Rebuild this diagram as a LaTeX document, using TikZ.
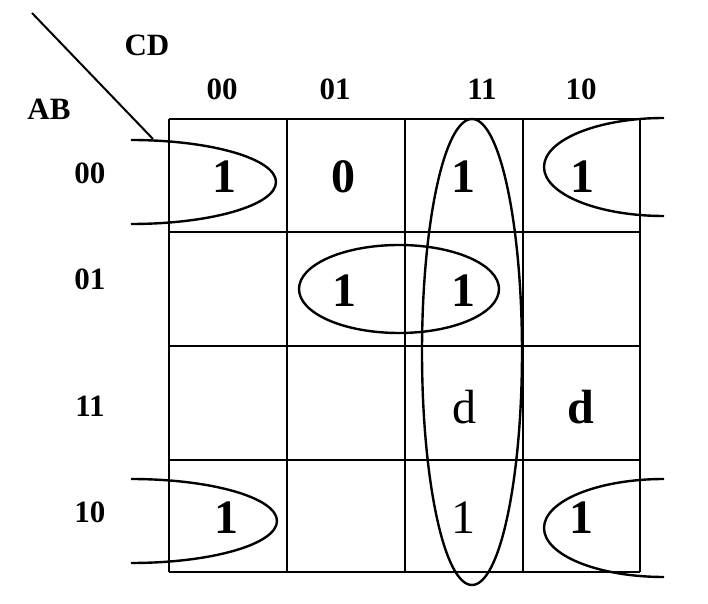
\documentclass[tikz,border=0pt]{standalone}
\usepackage{fontspec}
\setmainfont{Liberation Serif}
\usetikzlibrary{positioning}

\begin{document}
\begin{tikzpicture}[x=0.5pt,y=-0.5pt,
		lbl/.style={font=\fontsize{15.5}{16}\selectfont\bfseries, inner sep=0pt},
		val/.style={font=\fontsize{24}{24}\selectfont\bfseries, inner sep=0pt},
		valn/.style={font=\fontsize{24}{24}\selectfont, inner sep=0pt},
		loop/.style={line width=1.2pt}]
		\useasboundingbox (0,0) rectangle (708,604);
		% grid
		\foreach \x in {169,287,405,523,640}
			\draw[line width=0.7pt] (\x,119) -- (\x,572);
		\foreach \y in {119,232,346,460,572}
			\draw[line width=0.7pt] (169,\y) -- (640,\y);
		% corner
		\coordinate (corner top) at (32,13);
		\coordinate (corner end) at (153,139);
		\draw[line width=1pt] (corner top) -- (corner end);
		\node[lbl] (cd) at (147,45) {CD};
		\node[lbl] (ab) at (49,109) {AB};
		% column labels
		\node[lbl] (col00) at (222,89) {00};
		\node[lbl] (col01) at (335,89) {01};
		\node[lbl] (col11) at (482,89) {11};
		\node[lbl] (col10) at (581,89) {10};
		% row labels
		\node[lbl] (row00) at (90,173) {00};
		\node[lbl] (row01) at (90,279) {01};
		\node[lbl] (row11) at (90,406) {11};
		\node[lbl] (row10) at (90,512) {10};
		% cell values
		\node[val] (v0000) at (224,177) {1};
		\node[val] (v0001) at (343,177) {0};
		\node[val] (v0011) at (463,177) {1};
		\node[val] (v0010) at (582,177) {1};
		\node[val] (v0101) at (344,291) {1};
		\node[val] (v0111) at (463,291) {1};
		\node[valn] (v1111) at (464,407) {d};
		\node[val] (v1110) at (581,407) {d};
		\node[val] (v1000) at (226,518) {1};
		\node[valn] (v1011) at (463,518) {1};
		\node[val] (v1010) at (581,518) {1};
		% groups
		\draw[loop] (472,352) ellipse [x radius=50, y radius=233];
		\draw[loop] (399,289) ellipse [x radius=100, y radius=44];
		\draw[loop] (131,140) arc [start angle=-90, end angle=90, x radius=145, y radius=42];
		\draw[loop] (664,118) arc [start angle=-90, end angle=-270, x radius=120, y radius=49];
		\draw[loop] (131,479) arc [start angle=-90, end angle=90, x radius=146, y radius=42];
		\draw[loop] (664,479) arc [start angle=-90, end angle=-270, x radius=120, y radius=49];
	\end{tikzpicture}
\end{document}
